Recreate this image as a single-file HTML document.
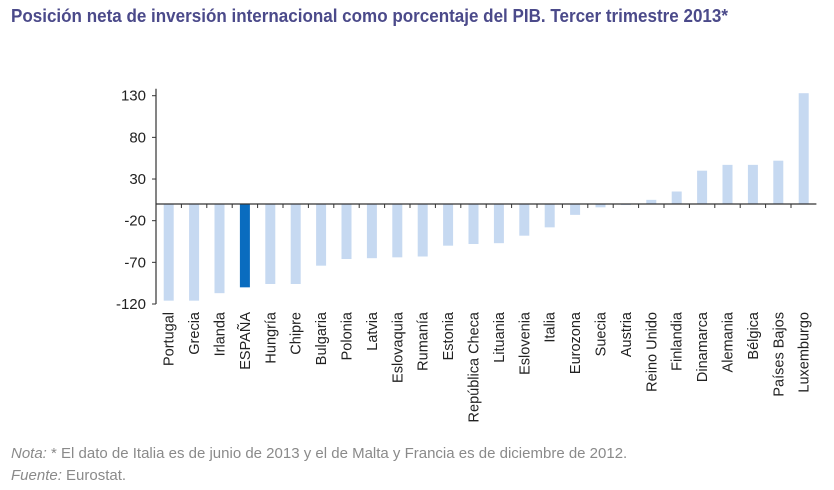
<!DOCTYPE html>
<html><head><meta charset="utf-8"><style>
body{margin:0;width:834px;height:490px;background:#fff;overflow:hidden;font-family:"Liberation Sans",sans-serif;}
#title{position:absolute;left:11px;top:6px;font-size:18px;color:#4b4a8a;font-weight:bold;white-space:nowrap;transform:scaleX(0.946);transform-origin:left;}
.foot{position:absolute;left:11px;font-size:15px;color:#8a8a8a;white-space:nowrap;}
</style></head><body>
<div id="title">Posición neta de inversión internacional como porcentaje del PIB. Tercer trimestre 2013*</div>
<svg id="chart" width="834" height="490" style="position:absolute;left:0;top:0"></svg>
<div class="foot" style="top:445px"><i>Nota:</i> * El dato de Italia es de junio de 2013 y el de Malta y Francia es de diciembre de 2012.</div>
<div class="foot" style="top:467px"><i>Fuente:</i> Eurostat.</div>
<script>
const categories=["Portugal","Grecia","Irlanda","ESPAÑA","Hungría","Chipre","Bulgaria","Polonia","Latvia","Eslovaquia","Rumanía","Estonia","República Checa","Lituania","Eslovenia","Italia","Eurozona","Suecia","Austria","Reino Unido","Finlandia","Dinamarca","Alemania","Bélgica","Países Bajos","Luxemburgo"];
const values=[-116,-116,-107,-100,-96,-96,-74,-66,-65,-64,-63,-50,-48,-47,-38,-28,-13,-4,-1,5,15,40,47,47,52,133];
const highlight=["ESPAÑA"];
const yTicks=[130,80,30,-20,-70,-120];
const NS="http://www.w3.org/2000/svg",svg=document.getElementById('chart');
const x0=156,step=25.4,yTop=95.7,yMax=130,yMin=-120,yBot=304;
const y=v=>yTop+(yMax-v)*(yBot-yTop)/(yMax-yMin);
const xc=i=>x0+(i+0.5)*step;
function mk(t,a){const e=document.createElementNS(NS,t);for(const k in a)e.setAttribute(k,a[k]);svg.appendChild(e);return e;}
values.forEach((v,i)=>{
 const r=mk('rect',{x:xc(i)-5,y:Math.min(y(v),y(0)),width:10,height:Math.max(1,Math.abs(y(v)-y(0))),fill:highlight.includes(categories[i])?'#0a6cbf':'#c6d9f1'});
 
 
 const t=mk('text',{x:0,y:0,transform:`translate(${xc(i)+5},312) rotate(-90)`,'text-anchor':'end','font-size':'14.5','fill':'#222'});
 t.textContent=categories[i];
 
 
 if(i>0){const tk=mk('line',{x1:x0+i*step,x2:x0+i*step,y1:y(0),y2:y(0)+4,stroke:'#333','stroke-width':1});
 
 }
});
const ax=mk('line',{x1:x0,x2:x0,y1:yTop-7,y2:yBot,stroke:'#333','stroke-width':1.2});


const zx=mk('line',{x1:x0,x2:x0+26*step,y1:y(0),y2:y(0),stroke:'#333','stroke-width':1.2});


yTicks.forEach(v=>{
 const l=mk('line',{x1:x0-4,x2:x0,y1:y(v),y2:y(v),stroke:'#333','stroke-width':1});
 
 
 const t=mk('text',{x:x0-10,y:y(v)+5,'text-anchor':'end','font-size':'15','fill':'#222'});
 t.textContent=v;
 
 
});
</script>
</body></html>
